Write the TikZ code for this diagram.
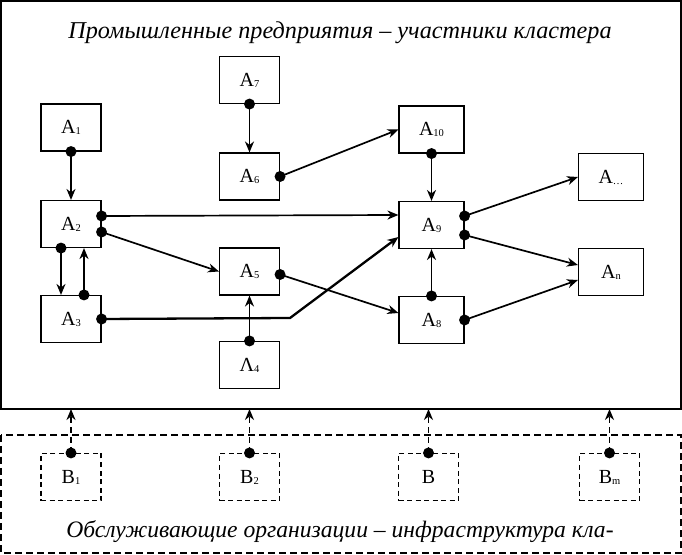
\documentclass[tikz,border=0pt]{standalone}
\usepackage{fontspec}
\setmainfont{Liberation Serif}
\usetikzlibrary{arrows.meta,calc}

\newcommand{\ind}[2]{#1\lower1pt\hbox{\fontsize{10.5}{10.5}\selectfont #2}}

\begin{document}
\begin{tikzpicture}[x=1pt,y=1pt,
  abox/.style={draw,line width=1.1pt,minimum width=60pt,minimum height=47pt,inner sep=0pt,font=\fontsize{20}{20}\selectfont},
  wbox/.style={abox,minimum width=65pt},
  bbox/.style={abox,dash pattern=on 5pt off 3.5pt},
  arr/.style={line width=1.7pt,-{Stealth[length=11pt,width=9pt,inset=3.5pt]}},
  darr/.style={arr,dash pattern=on 6pt off 4pt},
  dot/.style={fill=black}]
\useasboundingbox (0,0) rectangle (682,554);
% cluster frames
\draw[line width=2pt] (1,553) rectangle (680.5,145);
\draw[line width=1.6pt,dash pattern=on 7pt off 4pt] (1,119) rectangle (681,1);
\node (top) at (340,521) {\fontsize{24.2}{24}\selectfont\itshape Промышленные предприятия – участники кластера};
\node (bot) at (340,22) {\fontsize{23.6}{24}\selectfont\itshape Обслуживающие организации – инфраструктура кла-};
% industrial enterprises
\node[abox] (a1) at (71,426.5) {\ind{A}{1}};
\node[abox] (a2) at (71,330) {\ind{A}{2}};
\node[abox] (a3) at (71,235) {\ind{A}{3}};
\node[abox] (a7) at (249.5,474) {\ind{A}{7}};
\node[abox] (a6) at (249.5,377.5) {\ind{A}{6}};
\node[abox] (a5) at (249.5,282.5) {\ind{A}{5}};
\node[abox] (a4) at (249.5,189) {\ind{Λ}{4}};
\node[wbox] (a10) at (431.5,424.5) {\ind{A}{10}};
\node[wbox] (a9) at (431.5,329) {\ind{A}{9}};
\node[wbox] (a8) at (431.5,234) {\ind{A}{8}};
\node[wbox] (ax) at (611,377) {\ind{A}{\dots}};
\node[wbox] (an) at (611,282) {\ind{A}{n}};
% service organisations
\node[bbox] (b1) at (71,77) {\ind{B}{1}};
\node[bbox] (b2) at (249.5,77) {\ind{B}{2}};
\node[bbox] (b) at (428.5,77) {B};
\node[bbox] (bm) at (609.5,77) {\ind{B}{m}};
% links
\coordinate (a2r1) at ($(a2.east)+(0,8)$);
\coordinate (a2r2) at ($(a2.east)+(0,-8)$);
\coordinate (a2bl) at ($(a2.south)+(-10,0)$);
\coordinate (a2br) at ($(a2.south)+(13,0)$);
\coordinate (a3tl) at ($(a3.north)+(-10,0)$);
\coordinate (a3tr) at ($(a3.north)+(13,0)$);
\coordinate (a5r) at ($(a5.east)+(0,-3)$);
\coordinate (a9l1) at ($(a9.west)+(0,10)$);
\coordinate (a9l2) at ($(a9.west)+(0,-12)$);
\coordinate (a9r1) at ($(a9.east)+(0,9)$);
\coordinate (a9r2) at ($(a9.east)+(0,-10)$);
\coordinate (a8l) at ($(a8.west)+(0,7)$);
\coordinate (an1) at ($(an.west)+(0,7)$);
\coordinate (an2) at ($(an.west)+(0,-8)$);
\coordinate (bend) at (290,236);
\draw[arr] (a1.south) -- (a2.north);
\draw[arr] (a7.south) -- (a6.north);
\draw[arr] (a6.east) -- (a10.west);
\draw[arr] (a10.south) -- (a9.north);
\draw[arr] (a2r1) -- (a9l1);
\draw[arr] (a2r2) -- (a5.west);
\draw[arr] (a2bl) -- (a3tl);
\draw[arr] (a3tr) -- (a2br);
\draw[arr,line width=2.3pt] (a3.east) -- (bend) -- (a9l2);
\draw[arr] (a5r) -- (a8l);
\draw[arr] (a4.north) -- (a5.south);
\draw[arr] (a8.north) -- (a9.south);
\draw[arr] (a9r1) -- (ax.west);
\draw[arr] (a9r2) -- (an1);
\draw[arr] (a8.east) -- (an2);
\foreach \p in {b1,b2,b,bm}
  \draw[darr] (\p.north) -- (\p.north |- 0,145);
% dots
\foreach \p in {a1.south,a7.south,a6.east,a10.south,a2r1,a2r2,a2bl,a3tr,a3.east,a5r,a4.north,a8.north,a9r1,a9r2,a8.east,b1.north,b2.north,b.north,bm.north}
  \fill[dot] (\p) circle (5.5);
\end{tikzpicture}
\end{document}
